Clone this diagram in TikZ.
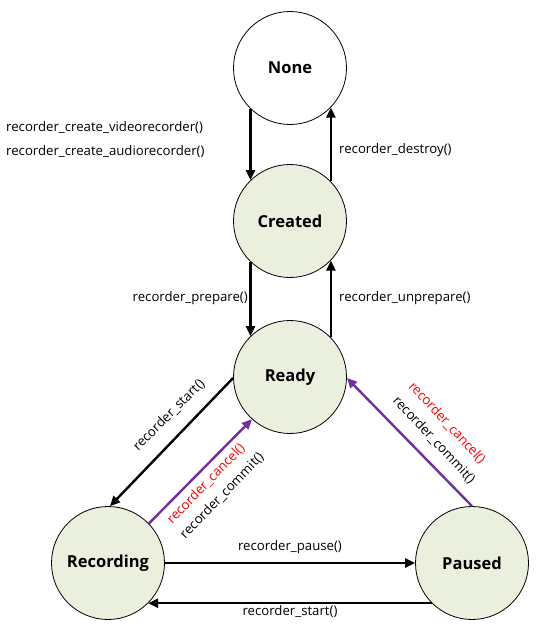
\documentclass[tikz,border=0pt]{standalone}
\usepackage{fontspec}
\setmainfont{Open Sans}
\usetikzlibrary{arrows.meta}
\definecolor{statefill}{RGB}{235,239,222}
\definecolor{arrpurple}{RGB}{112,48,160}
\begin{document}
\begin{tikzpicture}[x=1pt,y=-1pt,
  state/.style={circle,draw=black,line width=0.8pt,fill=statefill,minimum size=113pt,inner sep=0pt,font=\fontsize{16.5}{19}\selectfont\bfseries},
  topstate/.style={state,fill=white},
  lbl/.style={font=\fontsize{13.2}{15}\selectfont,inner sep=0pt},
  redlbl/.style={lbl,text=red},
  arr/.style={-{Triangle[length=10pt,width=9pt]},line width=2.4pt},
  parr/.style={arr,draw=arrpurple,-{Triangle[length=10pt,width=9pt,fill=arrpurple]}}
]
\useasboundingbox (0,0) rectangle (545,629);
\node[topstate] (none) at (290,68) {None};
\node[state] (created) at (290,221) {Created};
\node[state] (ready) at (290,377) {Ready};
\node[state] (rec) at (108,563) {Recording};
\node[state] (paused) at (472,563) {Paused};

\draw[arr] (none.226) -- (created.134);
\draw[arr] (created.44) -- (none.-44);
\draw[arr] (created.226) -- (ready.134);
\draw[arr] (ready.44) -- (created.-44);
\draw[arr] (ready.181) -- (rec.88);
\draw[parr] (rec.44) -- (ready.228);
\draw[parr] (paused.90) -- (ready.-1);
\draw[arr] (rec.0) -- (paused.180);
\draw[arr] (paused.225) -- (rec.-45);

\node[lbl,anchor=west] (l1) at (6,128) {recorder\_create\_videorecorder()};
\node[lbl,anchor=west] (l2) at (6,152) {recorder\_create\_audiorecorder()};
\node[lbl,anchor=west] (l3) at (339,150) {recorder\_destroy()};
\node[lbl,anchor=east] (l4) at (248,298) {recorder\_prepare()};
\node[lbl,anchor=west] (l5) at (339,298) {recorder\_unprepare()};
\node[lbl,rotate=45] (l6) at (169,415) {recorder\_start()};
\node[redlbl,rotate=46] (l7) at (206,484) {recorder\_cancel()};
\node[lbl,rotate=46] (l8) at (222,496) {recorder\_commit()};
\node[redlbl,rotate=-47] (l9) at (447,423) {recorder\_cancel()};
\node[lbl,rotate=-47] (l10) at (434,440) {recorder\_commit()};
\node[lbl] (l11) at (290,547) {recorder\_pause()};
\node[lbl] (l12) at (290,612) {recorder\_start()};
\end{tikzpicture}
\end{document}
